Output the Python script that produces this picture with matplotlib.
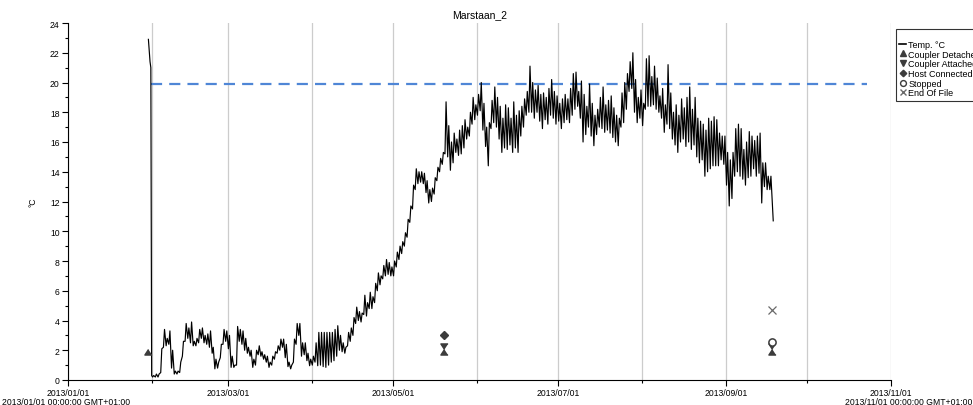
"""
Marstaan_2 logger temperature chart
"""

import numpy as np
import pandas as pd
import matplotlib
matplotlib.use('Agg')  # Non-interactive backend
import matplotlib.pyplot as plt
import matplotlib.dates as mdates
from matplotlib.lines import Line2D

plt.rcParams['font.family'] = ['Liberation Sans', 'DejaVu Sans']

BASE = pd.Timestamp('2013-01-01')
TITLE = 'Marstaan_2'

# logger start: short warm spike before the drop into the cold store (day of year, °C)
start_days = [29.7, 30.3, 30.6, 30.9]
start_vals = [22.9, 21.4, 21.0, 0.3]

# daily high / low, one entry per day from day 31 (Feb 1) to day 259 (Sep 17)
first_day = 31
daily_hi = [
    0.3, 0.4, 0.4, 2.1, 3.4, 2.8, 3.3, 2.0, 0.6, 0.6,
    1.2, 2.6, 3.8, 3.5, 3.9, 2.6, 2.8, 3.4, 3.5, 3.0,
    3.1, 3.3, 2.2, 1.4, 1.2, 2.4, 3.4, 3.3, 3.0, 1.6,
    1.0, 3.6, 3.4, 3.3, 2.8, 2.2, 2.0, 1.4, 2.0, 2.3,
    1.9, 1.7, 1.6, 1.2, 1.6, 1.9, 2.3, 2.75, 2.75, 2.4,
    1.2, 1.0, 2.75, 3.8, 3.8, 2.5, 2.5, 1.8, 1.4, 1.6,
    2.5, 3.2, 3.2, 3.2, 3.2, 3.2, 3.2, 3.4, 3.65, 3.0,
    2.5, 2.2, 3.2, 3.5, 4.2, 4.9, 4.6, 4.5, 5.7, 5.2,
    5.9, 5.6, 6.5, 7.2, 7.0, 7.7, 8.1, 7.9, 7.6, 8.0,
    8.6, 9.0, 9.3, 9.9, 10.8, 11.7, 13.1, 14.2, 14.0, 14.0,
    13.9, 13.4, 12.8, 12.9, 13.6, 14.3, 14.9, 15.3, 18.7, 17.1,
    16.0, 16.6, 16.2, 16.8, 17.1, 17.5, 17.0, 18.0, 19.0, 18.5,
    19.2, 20.0, 18.6, 17.0, 17.3, 18.8, 19.7, 19.0, 18.4, 17.6,
    18.5, 18.3, 17.6, 18.7, 17.8, 18.1, 18.4, 18.9, 19.4, 21.1,
    20.0, 19.5, 19.8, 19.2, 19.3, 19.0, 19.6, 20.2, 19.4, 19.1,
    18.6, 18.9, 19.2, 18.9, 19.6, 20.6, 20.7, 19.4, 20.1, 19.2,
    18.4, 19.9, 18.6, 17.8, 18.2, 19.0, 19.7, 18.5, 18.8, 19.1,
    18.3, 17.8, 17.6, 19.3, 20.0, 20.6, 21.4, 22.0, 20.2, 19.0,
    19.5, 18.6, 21.6, 21.8, 20.4, 21.1, 20.3, 19.1, 19.6, 18.5,
    21.2, 19.3, 18.0, 18.5, 17.8, 18.9, 18.3, 19.0, 19.7, 18.2,
    19.0, 17.6, 17.4, 17.2, 16.8, 17.6, 17.4, 17.7, 17.5, 16.6,
    16.4, 16.4, 15.3, 14.8, 15.3, 16.9, 17.2, 16.9, 15.5, 16.0,
    16.7, 16.4, 16.1, 16.4, 16.6, 14.6, 14.6, 13.7, 13.7,
]
daily_lo = [
    0.2, 0.2, 0.2, 0.5, 2.2, 2.3, 2.4, 0.8, 0.4, 0.4,
    0.5, 1.6, 2.6, 2.8, 2.5, 2.3, 2.3, 2.5, 2.8, 2.5,
    2.4, 2.2, 1.8, 0.75, 0.8, 1.5, 2.4, 2.6, 2.1, 0.85,
    0.85, 1.0, 2.6, 2.4, 2.0, 1.8, 1.6, 0.85, 1.0, 1.7,
    1.6, 1.4, 1.2, 0.85, 1.0, 1.4, 1.8, 2.0, 2.2, 1.5,
    0.9, 0.75, 1.2, 2.4, 3.0, 1.6, 1.7, 1.3, 0.96, 1.0,
    1.2, 0.96, 1.0, 0.9, 0.85, 1.0, 1.2, 1.3, 1.6, 2.0,
    1.9, 1.8, 2.3, 2.6, 3.0, 3.8, 4.0, 3.9, 4.4, 4.3,
    4.8, 4.8, 5.2, 6.0, 6.4, 6.8, 7.0, 7.1, 7.0, 7.0,
    7.6, 8.1, 8.5, 9.0, 9.6, 10.6, 11.5, 12.8, 13.2, 13.3,
    13.2, 12.6, 11.9, 12.0, 12.5, 13.4, 14.0, 14.5, 15.2, 15.0,
    14.1, 14.6, 15.3, 15.1, 15.2, 15.6, 16.2, 16.4, 17.2, 17.5,
    17.8, 18.1, 16.8, 15.7, 14.4, 16.9, 17.3, 17.0, 16.2, 15.3,
    15.6, 15.5, 15.8, 15.3, 15.6, 15.3, 16.4, 17.0, 17.8, 18.0,
    18.0, 17.6, 18.0, 17.4, 16.9, 17.5, 17.2, 17.8, 17.6, 17.2,
    17.4, 16.9, 17.3, 17.5, 17.3, 17.8, 18.2, 18.4, 17.6, 16.0,
    16.5, 17.0, 16.4, 15.75, 16.5, 17.0, 16.9, 16.65, 16.8, 16.6,
    16.3, 16.0, 15.75, 17.0, 17.3, 18.2, 19.4, 19.6, 18.0, 17.3,
    17.6, 17.1, 18.2, 18.4, 18.4, 18.5, 18.2, 18.0, 17.6, 16.65,
    17.2, 16.9, 16.2, 15.8, 15.3, 16.0, 16.2, 15.7, 16.0, 15.5,
    15.8, 15.0, 14.6, 14.8, 13.7, 14.0, 14.2, 14.4, 14.4, 14.4,
    14.8, 14.5, 13.1, 11.7, 12.2, 13.7, 14.0, 13.7, 13.5, 13.1,
    13.6, 13.7, 14.2, 13.7, 13.9, 11.9, 13.0, 12.8, 12.8,
]

# last reading before the logger was stopped
end_days = [260.5]
end_vals = [10.7]

# alarm threshold (dashed line)
limit_value = 19.9
limit_days = [30.8, 295.0]

# logger events (day of year, plotted value)
detached_days = [29.7, 138.9, 260.1]
detached_vals = [2.1, 2.1, 2.1]
attached_days = [138.9, 260.1]
attached_vals = [2.1, 2.1]
host_days = [138.9]
host_vals = [3.05]
stopped_days = [260.1]
stopped_vals = [2.55]
eof_days = [260.1]
eof_vals = [4.7]

legend_labels = ['Temp. °C', 'Coupler Detached', 'Coupler Attached',
                 'Host Connected', 'Stopped', 'End Of File']
range_notes = ['2013/01/01 00:00:00 GMT+01:00', '2013/11/01 00:00:00 GMT+01:00']


def to_dates(days):
    return BASE + pd.to_timedelta(np.asarray(days, dtype=float), unit='D')


# interleave daily low (morning) and high (afternoon)
series_days = list(start_days)
series_vals = list(start_vals)
for i, (lo, hi) in enumerate(zip(daily_lo, daily_hi)):
    d = first_day + i
    series_days += [d + 0.25, d + 0.65]
    series_vals += [lo, hi]
series_days += end_days
series_vals += end_vals

W, H = 973, 406
fig = plt.figure(figsize=(W / 100, H / 100), dpi=100)
ax = fig.add_axes([68 / W, 1 - 381 / H, (891 - 68) / W, (381 - 24) / H])

ax.plot(to_dates(series_days), series_vals, color='black', linewidth=0.85, zorder=3)
ax.plot(to_dates(limit_days), [limit_value, limit_value], color='#4f86d6',
        linewidth=1.6, dashes=(5, 3.2), zorder=2)

# event markers: triangles drawn from the tip so up+down make an hourglass
grey = '#3c3c3c'
tri_up = [(0, 0), (-0.65, -1), (0.65, -1)]
tri_dn = [(0, 0), (-0.65, 1), (0.65, 1)]
ax.plot(to_dates(detached_days), detached_vals, linestyle='none', marker=tri_up,
        markersize=8, color=grey, zorder=4)
ax.plot(to_dates(attached_days), attached_vals, linestyle='none', marker=tri_dn,
        markersize=8, color=grey, zorder=4)
ax.plot(to_dates(host_days), host_vals, linestyle='none', marker='D',
        markersize=4.0, color=grey, zorder=4)
ax.plot(to_dates(stopped_days), stopped_vals, linestyle='none', marker='o',
        markersize=5.2, markerfacecolor='white', markeredgecolor=grey,
        markeredgewidth=1.1, zorder=5)
ax.plot(to_dates(eof_days), eof_vals, linestyle='none', marker='x',
        markersize=5.5, color='#6a6a6a', markeredgewidth=0.9, zorder=4)

# axes
ax.set_xlim(BASE, pd.Timestamp('2013-11-01'))
ax.set_ylim(0, 24)
ax.xaxis.set_major_locator(mdates.MonthLocator(bymonth=[1, 3, 5, 7, 9, 11]))
ax.xaxis.set_minor_locator(mdates.MonthLocator())
ax.xaxis.set_major_formatter(mdates.DateFormatter('%Y/%m/%d'))
ax.set_yticks(np.arange(0, 25, 2))
ax.set_yticks(np.arange(0, 25, 1), minor=True)
ax.grid(True, axis='x', which='both', color='#cccccc', linewidth=0.9)
ax.set_axisbelow(True)
for side in ['top', 'right']:
    ax.spines[side].set_visible(False)
for side in ['left', 'bottom']:
    ax.spines[side].set_linewidth(0.8)
ax.tick_params(which='major', length=4, width=0.8, labelsize=6.2, pad=2)
ax.tick_params(which='minor', length=2, width=0.8)
ax.set_ylabel('°C', fontsize=6.2, labelpad=9)
ax.set_title(TITLE, fontsize=7.5, pad=4)

fig.text(2 / W, 1 - 403 / H, range_notes[0], fontsize=6.2, ha='left', va='center')
fig.text(1 - 1 / W, 1 - 403 / H, range_notes[1], fontsize=6.2, ha='right', va='center')

# legend (runs off the right edge like the original)
handles = [
    Line2D([], [], color='black', linewidth=1.2),
    Line2D([], [], linestyle='none', marker='^', markersize=4.5, color=grey),
    Line2D([], [], linestyle='none', marker='v', markersize=4.5, color=grey),
    Line2D([], [], linestyle='none', marker='D', markersize=3.3, color=grey),
    Line2D([], [], linestyle='none', marker='o', markersize=4.2,
           markerfacecolor='white', markeredgecolor=grey),
    Line2D([], [], linestyle='none', marker='x', markersize=4.2, color='#6a6a6a'),
]
leg = fig.legend(handles, legend_labels, loc='upper left',
                 bbox_to_anchor=(896 / W, 1 - 30 / H), bbox_transform=fig.transFigure,
                 fontsize=6.5, frameon=True, fancybox=False, borderpad=0.35,
                 labelspacing=0.08, handlelength=0.8, handletextpad=0.2,
                 borderaxespad=0, title=' ', title_fontsize=5.8)
leg.get_frame().set_edgecolor('black')
leg.get_frame().set_linewidth(0.8)

plt.savefig('out.png', dpi=100)
plt.close()
